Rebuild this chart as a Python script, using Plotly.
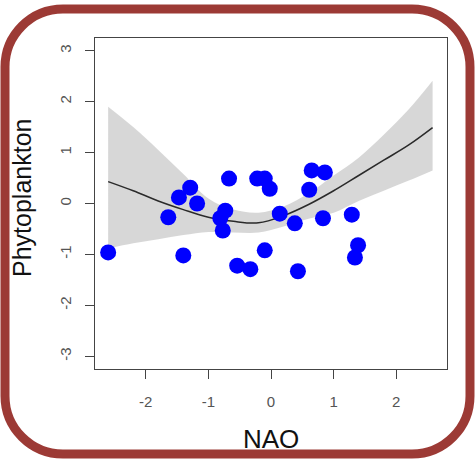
import plotly.graph_objects as go

# Observed data (NAO vs Phytoplankton)
nao = [-2.60, -1.64, -1.47, -1.29, -1.18, -1.40, -0.67, -0.73, -0.81, -0.77,
       -0.54, -0.33, -0.22, -0.10, -0.02, -0.10, 0.14, 0.38, 0.43, 0.65,
       0.86, 0.61, 0.83, 1.29, 1.39, 1.34]
phyto = [-0.96, -0.27, 0.12, 0.31, 0.00, -1.02, 0.49, -0.14, -0.29, -0.53,
         -1.22, -1.29, 0.49, 0.49, 0.29, -0.92, -0.20, -0.39, -1.33, 0.65,
         0.61, 0.27, -0.29, -0.22, -0.82, -1.06]

# Fitted smooth and confidence band
fit_x = [-2.6, -2.2, -1.8, -1.4, -1.0, -0.6, -0.2, 0.2, 0.6, 1.0, 1.4, 1.8, 2.2, 2.58]
fit_y = [0.43, 0.25, 0.05, -0.12, -0.27, -0.35, -0.38, -0.24, -0.02, 0.25, 0.55, 0.85, 1.15, 1.49]
fit_hi = [1.90, 1.50, 1.05, 0.58, 0.10, -0.12, -0.18, -0.06, 0.20, 0.55, 0.90, 1.35, 1.85, 2.41]
fit_lo = [-0.88, -0.78, -0.70, -0.62, -0.56, -0.57, -0.57, -0.45, -0.30, -0.18, 0.05, 0.25, 0.45, 0.65]

x_ticks = [-2, -1, 0, 1, 2]
x_labels = ["-2", "-1", "0", "1", "2"]
y_ticks = [-3, -2, -1, 0, 1, 2, 3]
y_labels = ["-3", "-2", "-1", "0", "1", "2", "3"]

W, H = 475, 459
ML, MR, MT, MB = 95, 28, 38, 90
PW, PH = W - ML - MR, H - MT - MB


def px(xp, yp):
    return (xp - ML) / PW, (H - MB - yp) / PH


fig = go.Figure()
fig.add_trace(go.Scatter(x=fit_x, y=fit_lo, mode="lines", line=dict(width=0, shape="spline"),
                         hoverinfo="skip", showlegend=False))
fig.add_trace(go.Scatter(x=fit_x, y=fit_hi, mode="lines", line=dict(width=0, shape="spline"),
                         fill="tonexty", fillcolor="rgba(175,175,175,0.5)",
                         hoverinfo="skip", showlegend=False))
fig.add_trace(go.Scatter(x=fit_x, y=fit_y, mode="lines", line=dict(color="#2a2a2a", width=1.5, shape="spline"),
                         showlegend=False))
fig.add_trace(go.Scatter(x=nao, y=phyto, mode="markers",
                         marker=dict(color="#0000ff", size=16, line=dict(width=0)),
                         showlegend=False))

# rounded frame
L, R, T, B, r = 5, 470, 9, 454, 58
k = 0.552 * r


def P(a, b):
    u, v = px(a, b)
    return f"{u:.5f},{v:.5f}"


path = (f"M {P(L + r, T)} L {P(R - r, T)} C {P(R - r + k, T)} {P(R, T + r - k)} {P(R, T + r)} "
        f"L {P(R, B - r)} C {P(R, B - r + k)} {P(R - r + k, B)} {P(R - r, B)} "
        f"L {P(L + r, B)} C {P(L + r - k, B)} {P(L, B - r + k)} {P(L, B - r)} "
        f"L {P(L, T + r)} C {P(L, T + r - k)} {P(L + r - k, T)} {P(L + r, T)} Z")
fig.add_shape(type="path", path=path, xref="paper", yref="paper",
              line=dict(color="#9c3a35", width=9), fillcolor="rgba(0,0,0,0)")

ax, ay = px(22, 198)
fig.add_annotation(text="Phytoplankton", x=ax, y=ay, xref="paper", yref="paper",
                   textangle=-90, showarrow=False, xanchor="center", yanchor="middle",
                   font=dict(family="Liberation Sans", size=25, color="#111"))
bx, by = px(271, 439)
fig.add_annotation(text="NAO", x=bx, y=by, xref="paper", yref="paper",
                   showarrow=False, xanchor="center", yanchor="middle",
                   font=dict(family="Liberation Sans", size=26, color="#111"))

axis_common = dict(showgrid=False, zeroline=False, showline=True, mirror=True,
                   linecolor="#444", linewidth=1, ticks="outside", ticklen=9,
                   tickcolor="#444", tickwidth=1,
                   tickfont=dict(family="Liberation Sans", size=15, color="#555"))
fig.update_xaxes(range=[-2.81, 2.81], tickvals=x_ticks, ticktext=x_labels,
                 ticklabelstandoff=10, **axis_common)
fig.update_yaxes(range=[-3.25, 3.25], tickvals=y_ticks, ticktext=y_labels,
                 tickangle=-90, ticklabelstandoff=8, **axis_common)

fig.update_layout(width=W, height=H, margin=dict(l=ML, r=MR, t=MT, b=MB),
                  paper_bgcolor="white", plot_bgcolor="white", showlegend=False)
fig.write_html("out.html")
